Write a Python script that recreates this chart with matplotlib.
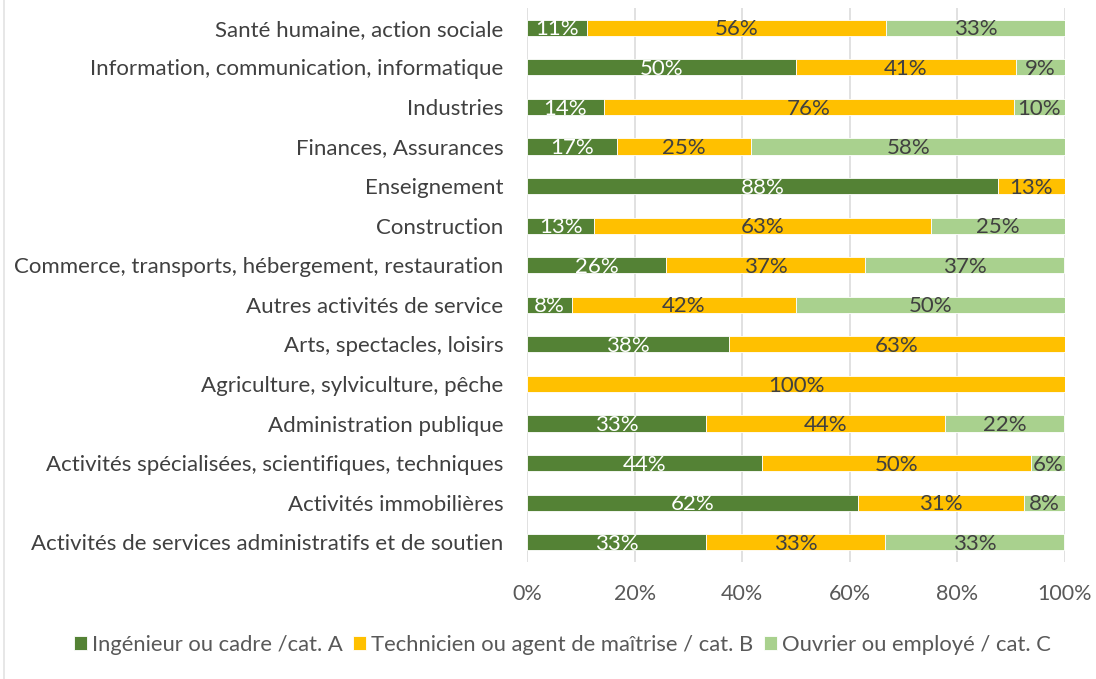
import matplotlib
matplotlib.use("Agg")
import matplotlib.pyplot as plt
import numpy as np
import math

plt.rcParams['font.family'] = ['Lato', 'DejaVu Sans']

categories = [
    "Santé humaine, action sociale",
    "Information, communication, informatique",
    "Industries",
    "Finances, Assurances",
    "Enseignement",
    "Construction",
    "Commerce, transports, hébergement, restauration",
    "Autres activités de service",
    "Arts, spectacles, loisirs",
    "Agriculture, sylviculture, pêche",
    "Administration publique",
    "Activités spécialisées, scientifiques, techniques",
    "Activités immobilières",
    "Activités de services administratifs et de soutien",
]
cat_a = [11.1, 50.0, 14.3, 16.7, 87.5, 12.5, 25.9, 8.3, 37.5, 0.0, 33.3, 43.75, 61.5, 33.3]
cat_b = [55.6, 40.9, 76.2, 25.0, 12.5, 62.5, 37.0, 41.7, 62.5, 100.0, 44.4, 50.0, 30.8, 33.3]
cat_c = [33.3, 9.1, 9.5, 58.3, 0.0, 25.0, 37.0, 50.0, 0.0, 0.0, 22.2, 6.25, 7.7, 33.3]
series_names = ["Ingénieur ou cadre /cat. A",
                "Technicien ou agent de maîtrise / cat. B",
                "Ouvrier ou employé / cat. C"]
colors = ["#548235", "#FFC000", "#A9D18E"]
label_colors = ["white", "#404040", "#404040"]
xticks = [0, 20, 40, 60, 80, 100]
xtick_labels = ["0%", "20%", "40%", "60%", "80%", "100%"]

W, H = 1096, 679
fig = plt.figure(figsize=(W / 100, H / 100), dpi=100)
ax = fig.add_axes([527 / W, 1 - 562 / H, (1065 - 527) / W, (562 - 8) / H])

y = np.arange(len(categories))
left = np.zeros(len(categories))
for vals, col, lc, name in zip([cat_a, cat_b, cat_c], colors, label_colors, series_names):
    vals = np.array(vals)
    ax.barh(y, vals, left=left, height=0.41, color=col, edgecolor="white",
            linewidth=0.6, label=name, zorder=3)
    for yi, (l, v) in enumerate(zip(left, vals)):
        if v > 0:
            ax.text(l + v / 2, yi + 0.04, f"{math.floor(v + 0.5)}%", ha="center", va="center",
                    color=lc, fontsize=16, zorder=4)
    left = left + vals

ax.set_xlim(0, 100)
ax.set_ylim(len(categories) - 0.5, -0.5)
ax.set_yticks(y)
ax.set_yticklabels(categories, fontsize=16, color="#404040")
ax.set_xticks(xticks)
ax.set_xticklabels(xtick_labels, fontsize=15.5, color="#595959")
ax.tick_params(axis="both", length=0)
ax.tick_params(axis="y", pad=17)
ax.tick_params(axis="x", pad=16)
for s in ax.spines.values():
    s.set_visible(False)
ax.grid(axis="x", color="#D9D9D9", linewidth=1.1, zorder=0)
ax.set_axisbelow(True)

leg = fig.legend(loc="center", bbox_to_anchor=(0.513, 1 - 645 / H), ncol=3, frameon=False,
                 fontsize=15.8, handlelength=0.6, handleheight=0.6, handletextpad=0.2,
                 columnspacing=0.5, labelcolor="#595959")

fig.add_artist(plt.Line2D([4 / W, 4 / W], [0, 1], color="#E3E3E3", linewidth=1.2,
                          transform=fig.transFigure))

fig.savefig("out.png", dpi=100)
